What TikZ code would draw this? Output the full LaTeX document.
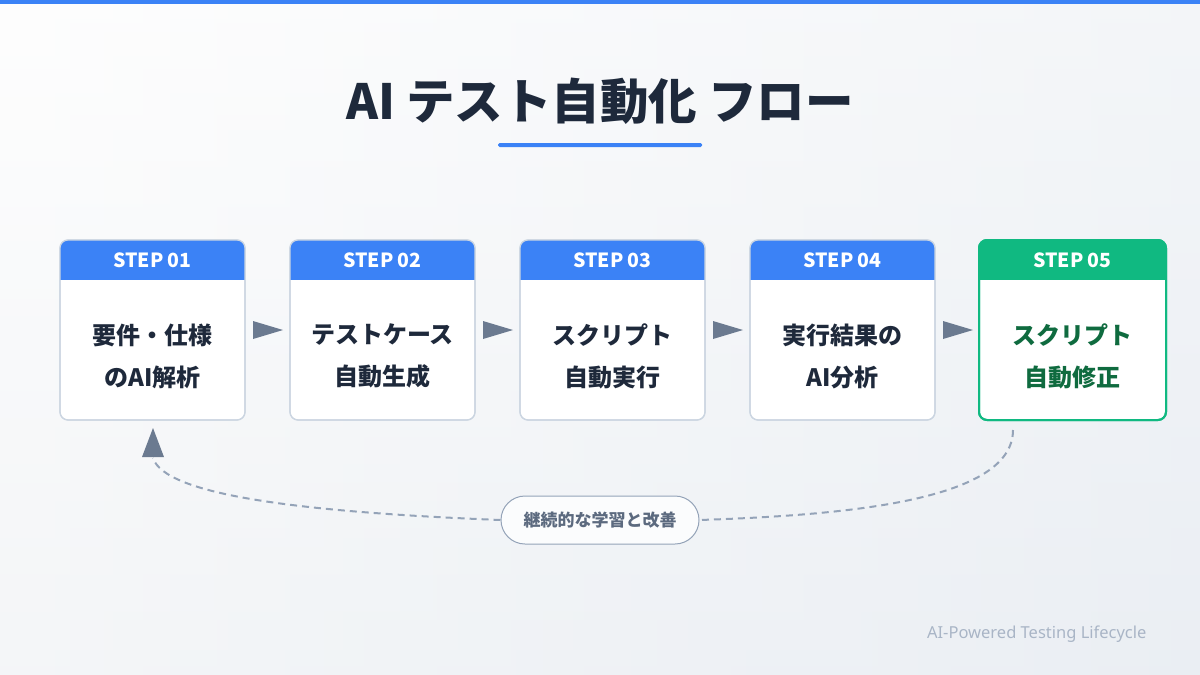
\documentclass[tikz,border=0pt]{standalone}
\usepackage{fontspec}
\setmainfont{Noto Sans CJK JP}
\newfontfamily\lat{Noto Sans}
\usetikzlibrary{shapes.geometric}
\definecolor{bl}{HTML}{3B82F6}
\definecolor{gr}{HTML}{10B981}
\definecolor{gt}{HTML}{0F6B3F}
\definecolor{dk}{HTML}{1E293B}
\definecolor{bd}{HTML}{CBD5E1}
\definecolor{ar}{HTML}{6B7A90}
\definecolor{dsh}{HTML}{94A3B8}
\begin{document}
\begin{tikzpicture}[x=1pt,y=-1pt,
  box/.style={draw=bd,line width=1.2pt,fill=white,rounded corners=8pt},
  hd/.style={font=\fontsize{19.5}{22}\selectfont\bfseries,text=white},
  bt/.style={font=\fontsize{24}{42}\selectfont\bfseries,text=dk,align=center},
  tri/.style={fill=ar,draw=none}]
\useasboundingbox (0,0) rectangle (1200,675);
\shade[left color=white!60!gray!5,right color=bd!45] (0,0) rectangle (1200,675);
\shade[top color=white,bottom color=bd!35,opacity=0.5] (0,0) rectangle (1200,675);
\fill[bl] (0,0) rectangle (1200,4);
\node[font=\fontsize{48.5}{54}\selectfont\bfseries,text=dk] (title) at (600,101) {AI テスト自動化 フロー};
\fill[bl,rounded corners=1.5pt] (498,143) rectangle (702,147);
\foreach \i/\x/\c/\n/\t [count=\k] in {1/60/bl/01/{要件・仕様\\のAI解析},2/290/bl/02/{テストケース\\自動生成},3/520/bl/03/{スクリプト\\自動実行},4/750/bl/04/{実行結果の\\AI分析}}{
  \draw[box] (\x,240) rectangle ++(185,180);
  \begin{scope}\clip[rounded corners=8pt] (\x,240) rectangle ++(185,180);
  \fill[\c] (\x,240) rectangle ++(185,40);\end{scope}
  \draw[bd,line width=1.2pt,rounded corners=8pt] (\x,240) rectangle ++(185,180);
  \node[hd] (h\i) at (\x+92.5,260) {STEP \n};
  \node[bt] (b\i) at (\x+92.5,356) {\t};
}
\draw[draw=gr,line width=2pt,fill=white,rounded corners=8pt] (979,240) rectangle (1166,420);
\begin{scope}\clip[rounded corners=8pt] (979,240) rectangle (1166,420);
\fill[gr] (979,240) rectangle (1166,280);\end{scope}
\draw[gr,line width=2pt,rounded corners=8pt] (979,240) rectangle (1166,420);
\node[hd] (h5) at (1072.5,260) {STEP 05};
\node[bt,text=gt] (b5) at (1072.5,356) {スクリプト\\自動修正};
\foreach \x in {253,483,713,943}
  \fill[tri] (\x,321) -- (\x+30,330) -- (\x,339) -- cycle;
\node[draw=dsh,line width=1pt,fill=white!60!bd!20,rounded corners=24pt,minimum width=198pt,minimum height=48pt,font=\fontsize{17}{20}\selectfont\bfseries,text=ar!80!dk] (loop) at (600,520) {継続的な学習と改善};
\coordinate (s) at (1013,430);
\coordinate (e) at (153,458);
\draw[dsh,line width=2pt,dash pattern=on 7pt off 5pt] (s) .. controls (1013,500) and (850,515) .. (loop.east);
\draw[dsh,line width=2pt,dash pattern=on 7pt off 5pt] (loop.west) .. controls (300,512) and (165,495) .. (e);
\fill[tri] (142,457) -- (153,428) -- (164,457) -- cycle;
\node[anchor=east,font=\lat\fontsize{16.5}{18}\selectfont,text=dsh!80] (ft) at (1150,634) {AI-Powered Testing Lifecycle};
\end{tikzpicture}
\end{document}
